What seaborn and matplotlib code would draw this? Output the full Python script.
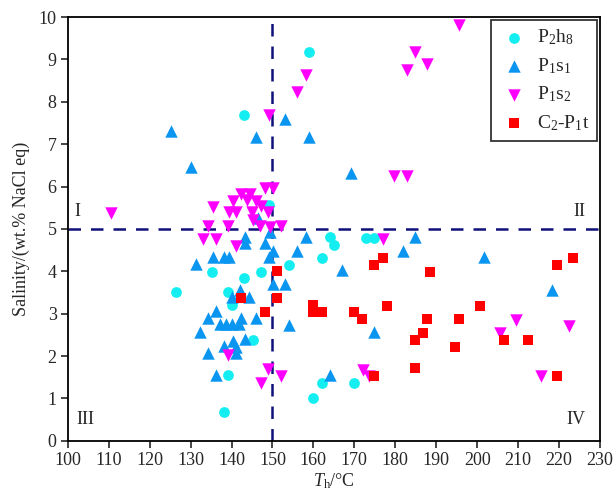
import matplotlib
matplotlib.use("Agg")
import matplotlib.pyplot as plt
import seaborn as sns
import pandas as pd

# ---- data ----
p2h8_x = [159.0, 143.0, 149.2, 135.2, 143.0, 147.1, 126.4, 139.2, 140.2, 145.2, 139.2, 138.2,
          164.0, 165.0, 162.0, 154.1, 172.8, 174.8, 162.0, 169.9, 159.9]
p2h8_y = [9.18, 7.70, 5.57, 3.99, 3.85, 3.99, 3.52, 3.52, 3.21, 2.38, 1.56, 0.69,
          4.80, 4.62, 4.31, 4.15, 4.78, 4.78, 1.36, 1.36, 1.02]

p1s1_x = [125.3, 130.2, 146.1, 153.0, 159.0, 169.1, 146.5, 143.3, 143.3, 148.1, 149.3, 150.2,
          149.2, 135.5, 138.2, 139.5, 131.3, 150.1, 153.0, 142.0, 140.0, 144.2, 136.2, 134.2,
          142.3, 146.0, 137.1, 138.6, 140.2, 141.9, 132.4, 140.4, 143.3, 138.2, 141.0, 141.2,
          134.2, 136.2, 158.2, 156.0, 166.9, 154.1, 174.9, 164.0, 184.8, 181.8, 201.7, 218.4]
p1s1_y = [7.32, 6.45, 7.18, 7.59, 7.18, 6.31, 5.25, 4.81, 4.67, 4.67, 4.92, 4.48,
          4.33, 4.34, 4.34, 4.34, 4.18, 3.71, 3.71, 3.56, 3.39, 3.39, 3.07, 2.90,
          2.90, 2.91, 2.76, 2.76, 2.76, 2.76, 2.58, 2.35, 2.40, 2.24, 2.22, 2.07,
          2.07, 1.56, 4.80, 4.49, 4.02, 2.74, 2.57, 1.56, 4.80, 4.49, 4.33, 3.55]

p1s2_x = [110.5, 195.6, 184.8, 187.8, 182.8, 158.1, 156.0, 149.1, 179.7, 182.8, 148.1, 150.2,
          142.4, 140.4, 143.7, 146.1, 144.6, 135.4, 139.4, 141.2, 144.9, 148.9, 145.3, 147.2,
          134.3, 139.2, 146.9, 149.4, 152.2, 133.1, 136.3, 141.2, 176.9, 139.2, 149.0, 152.2,
          147.1, 172.0, 173.6, 209.6, 205.6, 222.4, 215.6]
p1s2_y = [5.37, 9.81, 9.17, 8.90, 8.76, 8.63, 8.24, 7.69, 6.26, 6.26, 5.96, 5.96,
          5.83, 5.67, 5.68, 5.65, 5.82, 5.51, 5.39, 5.39, 5.41, 5.39, 5.21, 5.55,
          5.07, 5.07, 5.07, 5.05, 5.07, 4.77, 4.77, 4.60, 4.76, 2.03, 1.69, 1.52,
          1.36, 1.67, 1.52, 2.85, 2.54, 2.70, 1.52]

c2p1t_x = [151.0, 142.2, 151.2, 148.1, 160.0, 160.0, 162.0, 169.9, 171.9, 177.9, 174.9, 176.9,
           188.6, 187.8, 186.7, 184.8, 195.6, 200.7, 194.7, 206.5, 212.5, 184.8, 174.9, 219.4,
           219.4, 223.5]
c2p1t_y = [4.00, 3.37, 3.36, 3.05, 3.21, 3.05, 3.05, 3.05, 2.87, 3.19, 4.15, 4.31,
           3.99, 2.87, 2.54, 2.38, 2.87, 3.19, 2.21, 2.38, 2.38, 1.71, 1.54, 1.54,
           4.15, 4.31]

groups = [r"P$_2$h$_8$", r"P$_1$s$_1$", r"P$_1$s$_2$", r"C$_2$-P$_1$t"]
xticks = list(range(100, 231, 10))
yticks = list(range(0, 11, 1))
quadrant_labels = ["I", "II", "III", "IV"]

# ---- style ----
sns.set_theme(style="white")
plt.rcParams["font.family"] = ["Liberation Serif", "DejaVu Serif"]
plt.rcParams["mathtext.fontset"] = "custom"
plt.rcParams["mathtext.rm"] = "Liberation Serif"
plt.rcParams["mathtext.it"] = "Liberation Serif:italic"

fig = plt.figure(figsize=(6.16, 5.01), dpi=100)
ax = fig.add_axes([0.110, 0.120, 0.864, 0.846])

frames = [
    pd.DataFrame({"T": p2h8_x, "S": p2h8_y}),
    pd.DataFrame({"T": p1s1_x, "S": p1s1_y}),
    pd.DataFrame({"T": p1s2_x, "S": p1s2_y}),
    pd.DataFrame({"T": c2p1t_x, "S": c2p1t_y}),
]
markers = ["o", "^", "v", "s"]
colors = ["#14EEF0", "#0A96F0", "#FF00FF", "#FF0000"]
sizes = [60, 80, 80, 48]

ax.axvline(150, color="#10107A", lw=1.8, ls=(0, (5, 4)), zorder=1)
ax.axhline(5, color="#10107A", lw=1.8, ls=(0, (5, 4)), zorder=1)

for df, lab, m, c, s in zip(frames, groups, markers, colors, sizes):
    sns.scatterplot(data=df, x="T", y="S", marker=m, color=c, s=s,
                    linewidth=0, label=lab, ax=ax, zorder=3)

ax.set_xlim(100, 230)
ax.set_ylim(0, 10)
ax.set_xticks(xticks)
ax.set_yticks(yticks)
ax.tick_params(axis="both", which="major", direction="out", length=5, width=1.2,
               labelsize=13, bottom=True, left=True, top=False, right=False, pad=3)
for sp in ax.spines.values():
    sp.set_color("black")
    sp.set_linewidth(1.3)

ax.set_xlabel(r"$T_\mathrm{h}$/°C", fontsize=13, labelpad=2)
ax.set_ylabel("Salinity/(wt.% NaCl eq)", fontsize=13, labelpad=6)

ax.text(101.5, 5.2, quadrant_labels[0], fontsize=13, va="bottom", ha="left")
ax.text(226.5, 5.2, quadrant_labels[1], fontsize=13, va="bottom", ha="right")
ax.text(102, 0.3, quadrant_labels[2], fontsize=13, va="bottom", ha="left")
ax.text(226.5, 0.3, quadrant_labels[3], fontsize=13, va="bottom", ha="right")

leg = ax.legend(loc="upper right", fontsize=14, frameon=True, fancybox=False,
                edgecolor="black", borderaxespad=0.15, handletextpad=0.35,
                labelspacing=0.45, borderpad=0.4, handlelength=1.6)
leg.get_frame().set_linewidth(1.3)

fig.savefig("out.png", dpi=100)
